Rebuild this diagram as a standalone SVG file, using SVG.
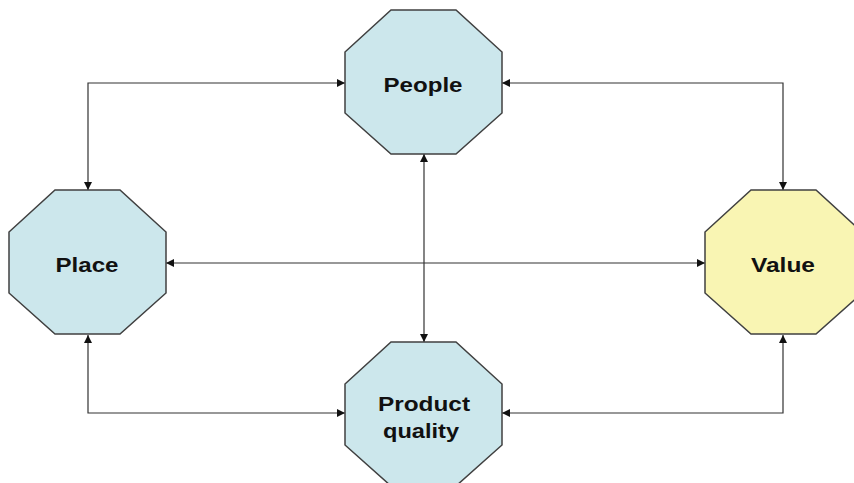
<svg xmlns="http://www.w3.org/2000/svg" width="854" height="483" viewBox="0 0 854 483">
<defs>
<style>
.oct{stroke:#404040;stroke-width:1.5}
.blue{fill:#CCE7EC}
.yellow{fill:#F9F5B3}
.lbl{font-family:"Liberation Sans",Arial,sans-serif;font-weight:bold;font-size:20px;fill:#111;text-anchor:middle}
.con{fill:none;stroke:#333;stroke-width:1.2}
</style>
<marker id="ah" viewBox="0 0 10 10" refX="10" refY="5" markerWidth="8" markerHeight="8" markerUnits="userSpaceOnUse" orient="auto-start-reverse">
<path d="M0,0 L10,5 L0,10 z" fill="#111"/>
</marker>
</defs>
<rect width="854" height="483" fill="#fff"/>
<g id="connectors">
<path class="con" d="M88,190 V83 H345" marker-start="url(#ah)" marker-end="url(#ah)"/>
<path class="con" d="M502,83 H783 V190" marker-start="url(#ah)" marker-end="url(#ah)"/>
<path class="con" d="M166,263 H705" marker-start="url(#ah)" marker-end="url(#ah)"/>
<path class="con" d="M424,154 V342" marker-start="url(#ah)" marker-end="url(#ah)"/>
<path class="con" d="M88,335 V413 H345" marker-start="url(#ah)" marker-end="url(#ah)"/>
<path class="con" d="M783,335 V413 H502" marker-start="url(#ah)" marker-end="url(#ah)"/>
</g>
<g id="people">
<polygon class="oct blue" points="391,10 456,10 502,52 502,113 456,154 391,154 345,113 345,52"/>
<text class="lbl" x="423" y="92" textLength="79" lengthAdjust="spacingAndGlyphs">People</text>
</g>
<g id="place">
<polygon class="oct blue" points="55,190 120,190 166,232 166,293 120,334 55,334 9,293 9,232"/>
<text class="lbl" x="87" y="272" textLength="63" lengthAdjust="spacingAndGlyphs">Place</text>
</g>
<g id="value">
<polygon class="oct yellow" points="751,190 816,190 862,232 862,293 816,334 751,334 705,293 705,232"/>
<text class="lbl" x="783" y="272" textLength="64" lengthAdjust="spacingAndGlyphs">Value</text>
</g>
<g id="product-quality">
<polygon class="oct blue" points="391,342 456,342 502,384 502,445 456,486 391,486 345,445 345,384"/>
<text class="lbl" x="424" y="411" textLength="92" lengthAdjust="spacingAndGlyphs">Product</text>
<text class="lbl" x="421" y="438" textLength="76" lengthAdjust="spacingAndGlyphs">quality</text>
</g>
</svg>
